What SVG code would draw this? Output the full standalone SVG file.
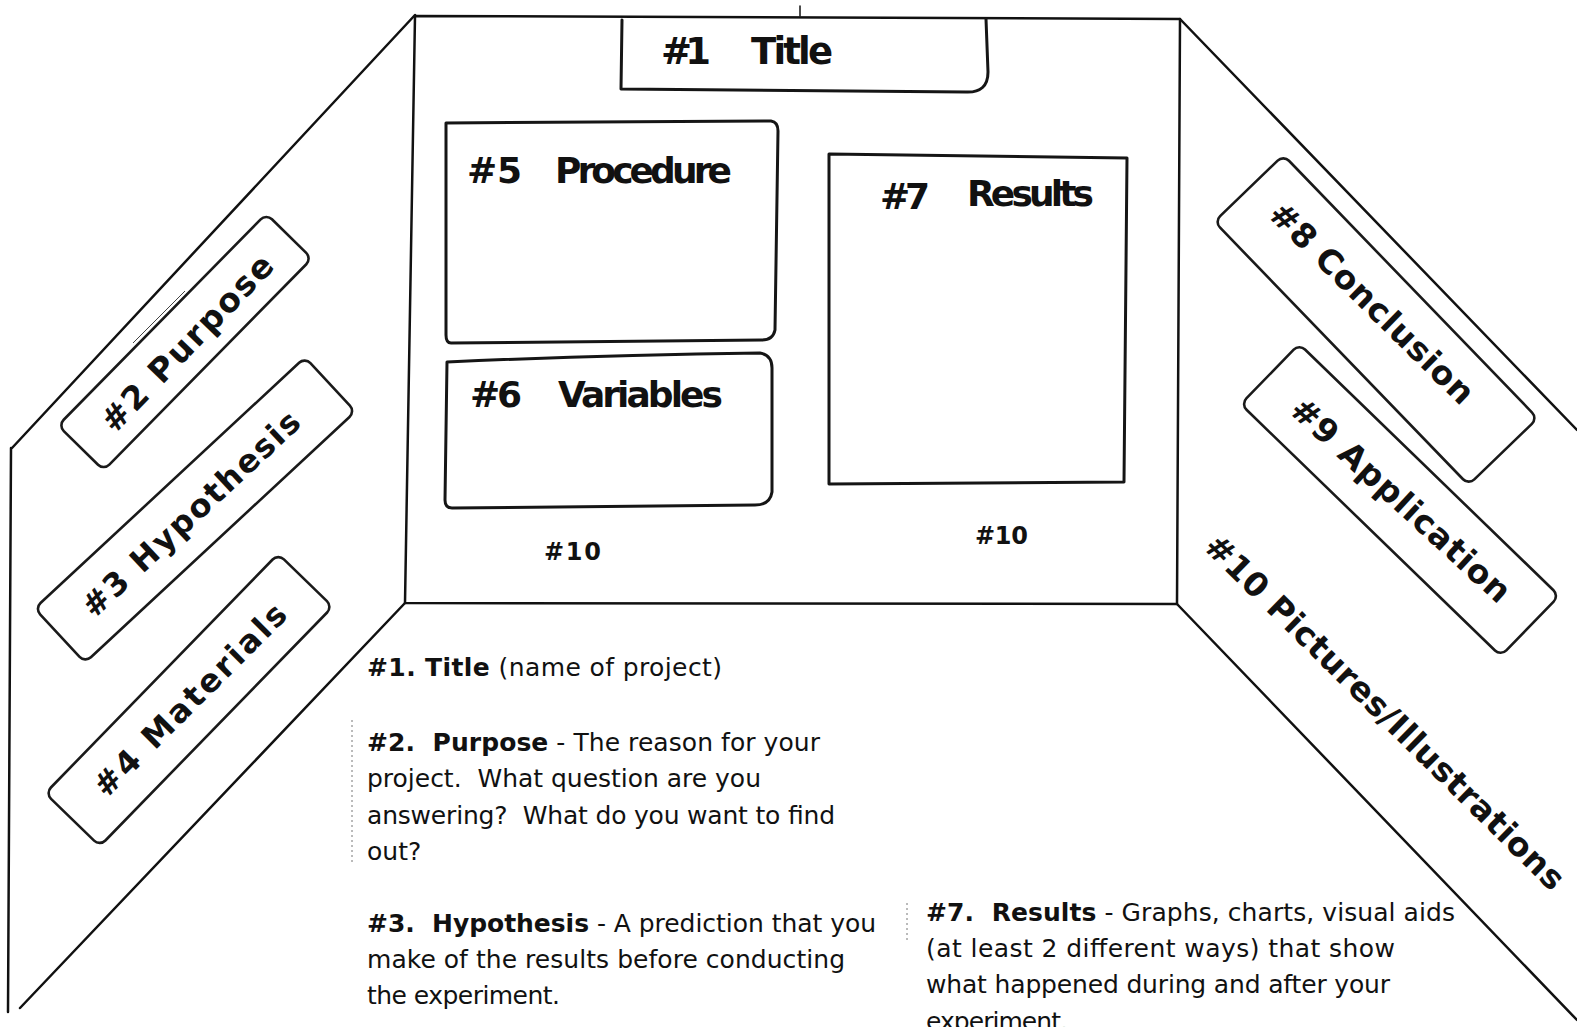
<svg xmlns="http://www.w3.org/2000/svg" width="1577" height="1027" viewBox="0 0 1577 1027">
<style>
.bg{fill:#ffffff}
.edge{fill:none;stroke:#111;stroke-width:2.5;stroke-linecap:round;stroke-linejoin:round}
.box{fill:none;stroke:#151515;stroke-width:3;stroke-linecap:round;stroke-linejoin:round}
.strip{fill:none;stroke:#1a1a1a;stroke-width:2.6}
.mark{fill:none;stroke:#777;stroke-width:1;stroke-dasharray:2 3}
.lab{font-family:"DejaVu Sans","Liberation Sans",sans-serif;font-weight:bold;fill:#111}
.desc{font-family:"DejaVu Sans","Liberation Sans",sans-serif;font-size:25px;fill:#111;white-space:pre}
.b{font-weight:bold}
</style>
<rect class="bg" x="0" y="0" width="1577" height="1027"/>

<g id="connectors">
  <!-- center panel -->
  <path class="edge" d="M415,16 L1180,19 L1177,604 L405,603 Z"/>
  <!-- left panel -->
  <path class="edge" d="M415,15 L12,448"/>
  <path class="edge" d="M11,448 L8,1012"/>
  <path class="edge" d="M405,603 L20,1008"/>
  <!-- right panel -->
  <path class="edge" d="M1180,19 L1577,430"/>
  <path class="edge" d="M1177,604 L1577,1020"/>
  <!-- small marks -->
  <path class="edge" d="M800,6 L800,16" style="stroke-width:1.5"/>
  <path d="M133,343 L185,291 M136,346 L187,294" style="fill:none;stroke:#444;stroke-width:1"/>
  <path class="mark" d="M352,720 L352,863"/>
  <path class="mark" d="M907,903 L907,940"/>
</g>

<g id="title">
  <path class="box" d="M622,20 L621,89 L966,92 Q988,93 988,72 L986,19"/>
  <text class="lab" font-size="37" y="64"><tspan x="661" textLength="50">#1</tspan><tspan x="751" textLength="82">Title</tspan></text>
</g>

<g id="procedure">
  <path class="box" d="M446,123 L771,121 Q778,122 778,131 L775,330 Q773,340 762,340 L451,343 Q446,343 446,335 Z"/>
  <text class="lab" font-size="36" y="183"><tspan x="467" textLength="55">#5</tspan><tspan x="555" textLength="177">Procedure</tspan></text>
</g>

<g id="variables">
  <path class="box" d="M447,362 Q600,355 760,353 Q772,355 772,368 L772,492 Q770,505 755,505 L452,508 Q445,508 445,500 Z"/>
  <text class="lab" font-size="36" y="407"><tspan x="470" textLength="52">#6</tspan><tspan x="558" textLength="165">Variables</tspan></text>
</g>

<g id="results">
  <path class="box" d="M829,154 L1127,158 L1124,482 L829,484 Z"/>
  <text class="lab" font-size="36"><tspan x="880" y="209" textLength="50">#7</tspan><tspan x="967" y="206" textLength="127">Results</tspan></text>
</g>

<g id="pictures-center">
  <text class="lab" font-size="24" x="544" y="560" textLength="57">#10</text>
  <text class="lab" font-size="24" x="975" y="544" textLength="53">#10</text>
</g>

<g id="purpose">
  <rect class="strip" x="-148.5" y="-32" width="297" height="64" rx="8" transform="translate(185,342) rotate(-45.5)"/>
  <text class="lab" font-size="33" text-anchor="middle" dominant-baseline="central" transform="translate(187,343) rotate(-46)" textLength="232">#2  Purpose</text>
</g>

<g id="hypothesis">
  <rect class="strip" x="-184.5" y="-37" width="369" height="74" rx="8" transform="translate(195,510) rotate(-42.9)"/>
  <text class="lab" font-size="32" text-anchor="middle" dominant-baseline="central" transform="translate(191,514) rotate(-43)" textLength="285">#3  Hypothesis</text>
</g>

<g id="materials">
  <rect class="strip" x="-167" y="-38" width="334" height="76" rx="8" transform="translate(189,700) rotate(-45.8)"/>
  <text class="lab" font-size="32" text-anchor="middle" dominant-baseline="central" transform="translate(190,700) rotate(-45)" textLength="258">#4  Materials</text>
</g>

<g id="conclusion">
  <rect class="strip" x="-183" y="-48" width="366" height="96" rx="8" transform="translate(1376,320) rotate(46)"/>
  <text class="lab" font-size="33" text-anchor="middle" dominant-baseline="central" transform="translate(1372,303) rotate(44.5)" textLength="272">#8  Conclusion</text>
</g>

<g id="application">
  <rect class="strip" x="-181" y="-42" width="362" height="84" rx="8" transform="translate(1400,500) rotate(44.1)"/>
  <text class="lab" font-size="33" text-anchor="middle" dominant-baseline="central" transform="translate(1401,500) rotate(42.5)" textLength="285">#9  Application</text>
</g>

<g id="pictures">
  <text class="lab" font-size="33" text-anchor="middle" dominant-baseline="central" transform="translate(1385,712) rotate(44.6)" textLength="490">#10  Pictures/Illustrations</text>
</g>

<g id="descriptions">
  <text class="desc" x="367" y="676" textLength="355"><tspan class="b">#1. Title</tspan> (name of project)</text>
  <text class="desc" x="367" y="751" textLength="453"><tspan class="b">#2.  Purpose</tspan> - The reason for your</text>
  <text class="desc" x="367" y="787" textLength="394">project.  What question are you</text>
  <text class="desc" x="367" y="824" textLength="468">answering?  What do you want to find</text>
  <text class="desc" x="367" y="860">out?</text>
  <text class="desc" x="367" y="932" textLength="509"><tspan class="b">#3.  Hypothesis</tspan> - A prediction that you</text>
  <text class="desc" x="367" y="968" textLength="478">make of the results before conducting</text>
  <text class="desc" x="367" y="1004" textLength="193">the experiment.</text>
  <text class="desc" x="926" y="921" textLength="529"><tspan class="b">#7.  Results</tspan> - Graphs, charts, visual aids</text>
  <text class="desc" x="926" y="957" textLength="469">(at least 2 different ways) that show</text>
  <text class="desc" x="926" y="993" textLength="464">what happened during and after your</text>
  <text class="desc" x="926" y="1030" textLength="142">experiment.</text>
</g>
</svg>
